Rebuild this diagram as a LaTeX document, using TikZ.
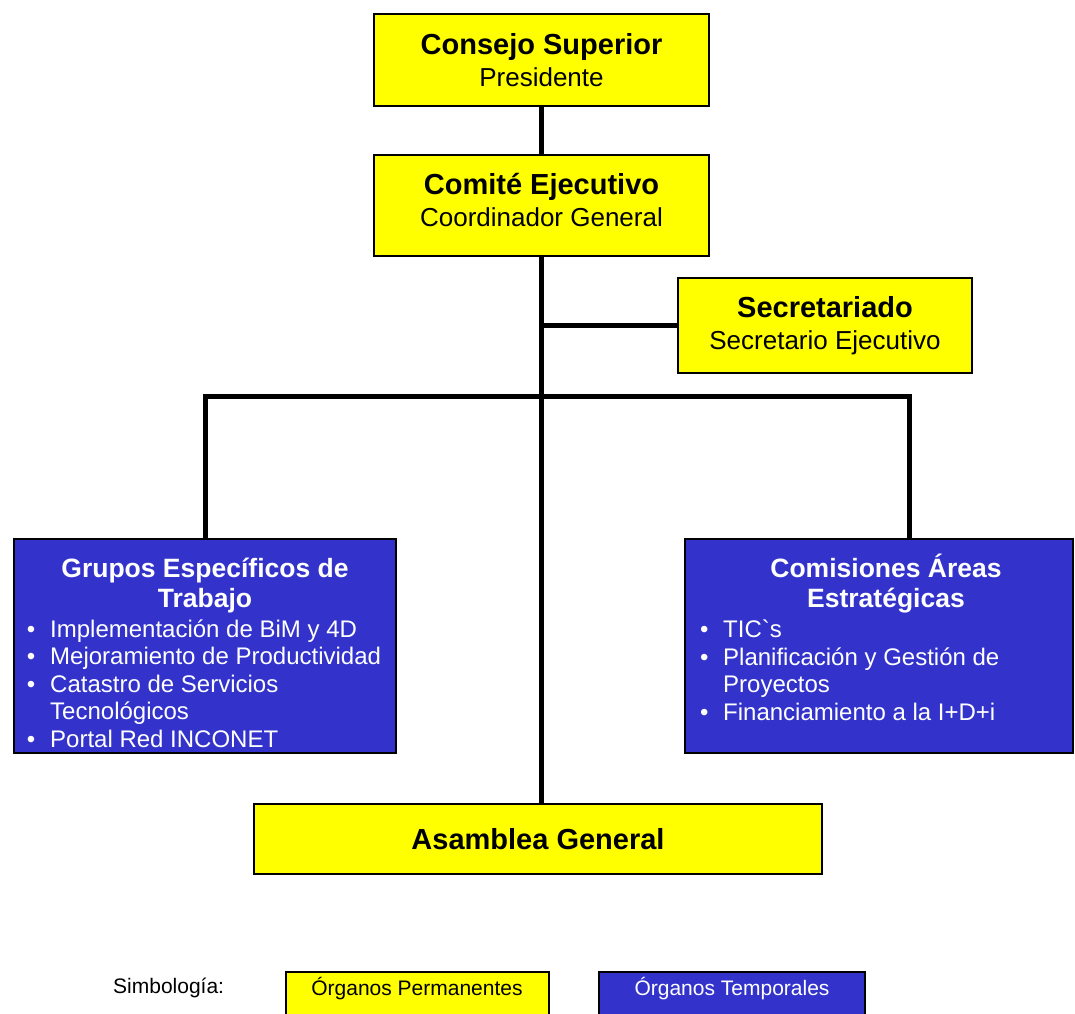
\documentclass[tikz,border=0pt]{standalone}
\usepackage{fontspec}
\setmainfont{Liberation Sans}
\definecolor{amarillo}{RGB}{255,255,0}
\definecolor{azul}{RGB}{51,51,204}
\newcommand{\vineta}[1]{\makebox[38pt][c]{\textbullet}#1}
\newcommand{\sigue}[1]{\hspace*{38pt}#1}
\begin{document}
\begin{tikzpicture}[x=1pt,y=-1pt,
  perm/.style={draw=black,line width=2pt,fill=amarillo,align=center,inner sep=0pt,
    font=\fontsize{26}{32}\selectfont},
  temp/.style={draw=black,line width=2pt,fill=azul,inner sep=0pt},
  tit/.style={font=\bfseries\fontsize{26.5}{30}\selectfont},
  lista/.style={white,align=left,inner sep=0pt,anchor=base west,font=\fontsize{24}{27.5}\selectfont},
  leyenda/.style={inner sep=0pt,anchor=base,font=\fontsize{21}{24}\selectfont},
  lin/.style={line width=5pt}]
\useasboundingbox (0,0) rectangle (1075,1013);
\clip (0,0) rectangle (1075,1013);
\node[perm,minimum width=335,minimum height=92] (consejo) at (541.5,60)
  {{\bfseries\fontsize{29}{32}\selectfont Consejo Superior}\\Presidente};
\node[perm,minimum width=335,minimum height=101,text depth=12pt] (comite) at (541.5,205.5)
  {{\bfseries\fontsize{29}{32}\selectfont Comité Ejecutivo}\\Coordinador General};
\node[perm,minimum width=294,minimum height=95] (secret) at (825,325.5)
  {{\bfseries\fontsize{29}{32}\selectfont Secretariado}\\Secretario Ejecutivo};
\node[perm,minimum width=568,minimum height=70] (asamblea) at (538,839)
  {\bfseries\fontsize{29}{32}\selectfont Asamblea General};
\node[temp,minimum width=382,minimum height=214] (grupos) at (205,646) {};
\node[temp,minimum width=388,minimum height=214] (comisiones) at (879,646) {};
\node[tit,white,align=center,anchor=base] (grupostit) at (205,607)
  {Grupos Específicos de\\Trabajo};
\node[tit,white,align=center,anchor=base] (comistit) at (886,607)
  {Comisiones Áreas\\Estratégicas};
\node[lista] (gruposlst) at (12,747)
  {\vineta{Implementación de BiM y 4D}\\\vineta{Mejoramiento de Productividad}\\
   \vineta{Catastro de Servicios}\\\sigue{Tecnológicos}\\\vineta{Portal Red INCONET}};
\node[lista] (comislst) at (685,720)
  {\vineta{TIC\textasciigrave s}\\\vineta{Planificación y Gestión de}\\
   \sigue{Proyectos}\\\vineta{Financiamiento a la I+D+i}};
\coordinate (ramal) at (541.5,396);
\coordinate (comisarriba) at ([xshift=30pt]comisiones.north);
\draw[lin] (consejo) -- (comite);
\draw[lin] (comite.south) -- (comite.south |- asamblea.north);
\draw[lin] (comite.south |- secret.west) -- (secret.west);
\draw[lin] (grupos.north) |- (ramal) -| (comisarriba);
\node[leyenda,anchor=base west] (simb) at (113,993) {Simbología:};
\node[perm,minimum width=263,minimum height=60] (permbox) at (417,1002) {};
\node[temp,minimum width=266,minimum height=60] (tempbox) at (732,1002) {};
\node[leyenda] (permtxt) at (417,995) {Órganos Permanentes};
\node[leyenda,white] (temptxt) at (732,995) {Órganos Temporales};
\end{tikzpicture}
\end{document}
